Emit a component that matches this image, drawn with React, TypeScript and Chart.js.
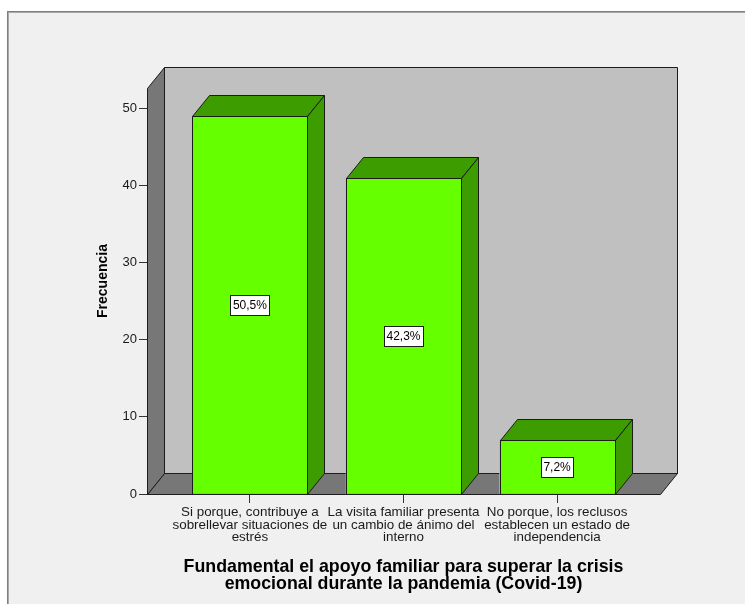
import React, { useEffect, useRef } from "react";
import { Chart, registerables } from "chart.js";

Chart.register(...registerables);

const categoryLines: string[][] = [
  ["Si porque, contribuye a", "sobrellevar situaciones de", "estrés"],
  ["La visita familiar presenta", "un cambio de ánimo del", "interno"],
  ["No porque, los reclusos", "establecen un estado de", "independencia"],
];
const frequencies = [49, 41, 7];
const percentLabels = ["50,5%", "42,3%", "7,2%"];
const yTickValues = [0, 10, 20, 30, 40, 50];
const yAxisTitle = "Frecuencia";
const xAxisTitle = [
  "Fundamental el apoyo familiar para superar la crisis",
  "emocional durante la pandemia (Covid-19)",
];

const FONT = "'Liberation Sans', Arial, sans-serif";
const DX = 17;
const DY = -21;
const EDGE = "#1c1c1c";

const threeD = {
  id: "threeD",
  beforeDraw(chart: any) {
    const { ctx, width, height } = chart;
    ctx.save();
    ctx.fillStyle = "#ffffff";
    ctx.fillRect(0, 0, width, height);
    ctx.fillStyle = "#f0f0f0";
    ctx.fillRect(8, 12, width - 8, height - 12);
    ctx.fillStyle = "#7e7e7e";
    ctx.fillRect(7, 11, width - 7, 1);
    ctx.fillRect(7, 11, 1, height - 11);
    ctx.fillStyle = "#a8a8a8";
    ctx.fillRect(8, 12, width - 8, 1);
    ctx.fillRect(8, 12, 1, height - 12);
    ctx.restore();
  },
  beforeDatasetsDraw(chart: any) {
    const { ctx, chartArea } = chart;
    const { left, right, top, bottom } = chartArea;
    ctx.save();
    ctx.lineWidth = 1;
    ctx.strokeStyle = EDGE;
    ctx.lineJoin = "miter";
    // back wall
    ctx.fillStyle = "#c0c0c0";
    ctx.beginPath();
    ctx.rect(left + DX + 0.5, top + DY + 0.5, right - left, bottom - top);
    ctx.fill();
    ctx.stroke();
    // floor
    ctx.fillStyle = "#777777";
    ctx.beginPath();
    ctx.moveTo(left + 0.5, bottom + 0.5);
    ctx.lineTo(left + DX + 0.5, bottom + DY + 0.5);
    ctx.lineTo(right + DX + 0.5, bottom + DY + 0.5);
    ctx.lineTo(right + 0.5, bottom + 0.5);
    ctx.closePath();
    ctx.fill();
    ctx.stroke();
    // left wall
    ctx.beginPath();
    ctx.moveTo(left + 0.5, bottom + 0.5);
    ctx.lineTo(left + 0.5, top + 0.5);
    ctx.lineTo(left + DX + 0.5, top + DY + 0.5);
    ctx.lineTo(left + DX + 0.5, bottom + DY + 0.5);
    ctx.closePath();
    ctx.fill();
    ctx.stroke();
    ctx.restore();
  },
  afterDatasetsDraw(chart: any) {
    const { ctx } = chart;
    const meta = chart.getDatasetMeta(0);
    ctx.save();
    ctx.lineWidth = 1;
    ctx.strokeStyle = EDGE;
    meta.data.forEach((bar: any, i: number) => {
      const { x, y, base, width } = bar.getProps(["x", "y", "base", "width"], true);
      const l = Math.round(x - width / 2) + 0.5;
      const r = Math.round(x + width / 2) + 0.5;
      const t = Math.round(y) + 0.5;
      const b = Math.round(base) + 0.5;
      ctx.fillStyle = "#3d9c00";
      // top face
      ctx.beginPath();
      ctx.moveTo(l, t);
      ctx.lineTo(l + DX, t + DY);
      ctx.lineTo(r + DX, t + DY);
      ctx.lineTo(r, t);
      ctx.closePath();
      ctx.fill();
      ctx.stroke();
      // side face
      ctx.beginPath();
      ctx.moveTo(r, t);
      ctx.lineTo(r + DX, t + DY);
      ctx.lineTo(r + DX, b + DY);
      ctx.lineTo(r, b);
      ctx.closePath();
      ctx.fill();
      ctx.stroke();
      // front outline
      ctx.strokeRect(l, t, r - l, b - t);
      // label box
      const text = percentLabels[i];
      ctx.font = `12px ${FONT}`;
      const tw = ctx.measureText(text).width;
      const bw = Math.round(tw + 5);
      const bh = 20;
      const cx = x;
      const cy = (y + base) / 2;
      const bx = Math.round(cx - bw / 2) + 0.5;
      const by = Math.round(cy - bh / 2) + 0.5;
      ctx.fillStyle = "#ffffff";
      ctx.fillRect(bx, by, bw, bh);
      ctx.strokeRect(bx, by, bw, bh);
      ctx.fillStyle = "#000000";
      ctx.textAlign = "center";
      ctx.textBaseline = "middle";
      ctx.fillText(text, cx, cy + 1);
    });
    ctx.restore();
  },
  afterDraw(chart: any) {
    const { ctx } = chart;
    ctx.save();
    ctx.translate(103, 281);
    ctx.rotate(-Math.PI / 2);
    ctx.font = `bold 14px ${FONT}`;
    ctx.fillStyle = "#000000";
    ctx.textAlign = "center";
    ctx.textBaseline = "middle";
    ctx.fillText(yAxisTitle, 0, 0);
    ctx.restore();
  },
};

export default function App() {
  const canvasRef = useRef<HTMLCanvasElement | null>(null);

  useEffect(() => {
    if (!canvasRef.current) return;
    const chart = new Chart(canvasRef.current, {
      type: "bar",
      data: {
        datasets: [
          {
            data: frequencies.map((v, i) => ({ x: i, y: v })),
            backgroundColor: "#66ff00",
            borderColor: EDGE,
            borderWidth: 0,
            barThickness: 115,
          },
        ],
      },
      options: {
        animation: false,
        responsive: false,
        devicePixelRatio: 1,
        layout: { padding: { left: 95, right: 85, top: 88, bottom: 11 } },
        plugins: {
          legend: { display: false },
          tooltip: { enabled: false },
          title: { display: false },
        },
        scales: {
          x: {
            type: "linear",
            offset: false,
            min: -0.67,
            max: 2.67,
            afterFit: (scale: any) => {
              scale.height = 99;
            },
            afterBuildTicks: (scale: any) => {
              scale.ticks = categoryLines.map((_, i) => ({ value: i }));
            },
            ticks: {
              autoSkip: false,
              maxRotation: 0,
              minRotation: 0,
              padding: 3,
              color: "#1a1a1a",
              font: { family: FONT, size: 13.4, lineHeight: 0.94 },
              callback: (value: any) => categoryLines[Math.round(Number(value))] ?? "",
            },
            grid: {
              offset: false,
              drawOnChartArea: false,
              drawTicks: true,
              tickLength: 9,
              tickColor: "#333333",
            },
            border: { display: false },
            title: {
              display: true,
              text: xAxisTitle,
              color: "#000000",
              font: { family: FONT, size: 17.8, weight: "bold", lineHeight: 0.97 },
              padding: { top: 0, bottom: 0 },
            },
          },
          y: {
            type: "linear",
            min: 0,
            max: 52.6,
            afterFit: (scale: any) => {
              scale.width = 52;
            },
            afterBuildTicks: (scale: any) => {
              scale.ticks = yTickValues.map((v) => ({ value: v }));
            },
            ticks: {
              padding: 2,
              color: "#1a1a1a",
              font: { family: FONT, size: 13 },
            },
            grid: {
              drawOnChartArea: false,
              drawTicks: true,
              tickLength: 8,
              tickColor: "#333333",
            },
            border: { display: false },
          },
        },
      },
      plugins: [threeD],
    });
    return () => chart.destroy();
  }, []);

  return (
    <div style={{ position: "absolute", left: 0, top: 0, width: 745, height: 604 }}>
      <canvas ref={canvasRef} width={745} height={604} style={{ display: "block" }} />
    </div>
  );
}
